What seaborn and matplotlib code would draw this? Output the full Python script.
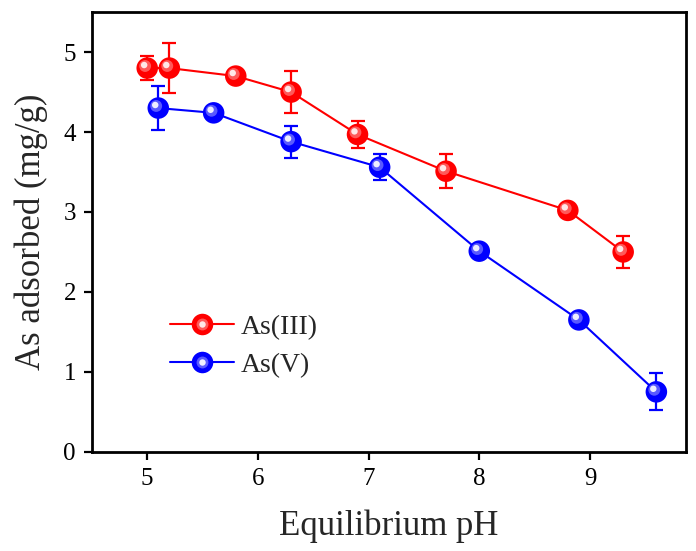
import numpy as np
import pandas as pd
import matplotlib
matplotlib.use("Agg")
import matplotlib.pyplot as plt
import matplotlib.transforms as mtransforms
from matplotlib.lines import Line2D
from matplotlib.legend_handler import HandlerTuple
import seaborn as sns

# ---- data ----
ph_as3 = [5.0, 5.2, 5.8, 6.3, 6.9, 7.7, 8.8, 9.3]
q_as3 = [4.80, 4.80, 4.70, 4.50, 3.97, 3.51, 3.02, 2.50]
err_as3 = [0.15, 0.31, 0.0, 0.26, 0.17, 0.21, 0.0, 0.20]

ph_as5 = [5.1, 5.6, 6.3, 7.1, 8.0, 8.9, 9.6]
q_as5 = [4.30, 4.24, 3.88, 3.56, 2.51, 1.65, 0.75]
err_as5 = [0.27, 0.0, 0.20, 0.16, 0.0, 0.0, 0.23]

labels = ["As(III)", "As(V)"]
colors = {"As(III)": "#ff0000", "As(V)": "#0000ff"}
highlight = {"As(III)": "#ffe8e8", "As(V)": "#eeeeff"}
midtone = {"As(III)": "#ff7070", "As(V)": "#7070ff"}

df = pd.concat([
    pd.DataFrame({"pH": ph_as3, "q": q_as3, "err": err_as3, "species": labels[0]}),
    pd.DataFrame({"pH": ph_as5, "q": q_as5, "err": err_as5, "species": labels[1]}),
], ignore_index=True)

sns.set_theme(style="ticks")
plt.rcParams["font.family"] = "serif"
plt.rcParams["font.serif"] = ["Liberation Serif", "DejaVu Serif"]
plt.rcParams["mathtext.fontset"] = "stix"

fig = plt.figure(figsize=(6.96, 5.51), dpi=100)
ax = fig.add_axes([0.132, 0.180, 0.854, 0.798])

ms = 15.5
sns.lineplot(data=df, x="pH", y="q", hue="species", palette=colors,
             linewidth=1.5, ax=ax, legend=False, zorder=2, sort=True)

for sp in labels:
    d = df[df.species == sp]
    m = d.err > 0
    ax.errorbar(d.pH[m], d.q[m], yerr=d.err[m], fmt="none", ecolor=colors[sp],
                elinewidth=1.6, capsize=5, capthick=1.6, zorder=3)
    sns.scatterplot(x=d.pH, y=d.q, color=colors[sp], s=ms**2, edgecolor="none",
                    linewidth=0, ax=ax, zorder=4, legend=False)
    off1 = mtransforms.offset_copy(ax.transData, fig=fig, x=-1.5, y=1.5, units="points")
    ax.scatter(d.pH, d.q, s=(ms*0.55)**2, color=midtone[sp], edgecolor="none",
               transform=off1, zorder=5, alpha=0.8)
    off2 = mtransforms.offset_copy(ax.transData, fig=fig, x=-2.2, y=2.2, units="points")
    ax.scatter(d.pH, d.q, s=(ms*0.3)**2, color=highlight[sp], edgecolor="none",
               transform=off2, zorder=6)

ax.set_xlim(4.5, 9.87)
ax.set_ylim(0, 5.5)
ax.set_xticks([5, 6, 7, 8, 9])
ax.set_yticks([0, 1, 2, 3, 4, 5])
ax.set_xlabel("Equilibrium pH", fontsize=25, labelpad=14)
ax.set_ylabel("As adsorbed (mg/g)", fontsize=25, labelpad=11)
ax.tick_params(axis="both", direction="out", length=5.5, width=1.6, labelsize=18,
               color="black", labelcolor="black", pad=6)
ax.tick_params(top=False, right=False)
for s in ax.spines.values():
    s.set_visible(True)
    s.set_linewidth(2.0)
    s.set_color("black")
ax.set_facecolor("white")

handles = []
for sp in labels:
    h1 = Line2D([], [], color=colors[sp], lw=1.5, marker="o", ms=ms, mec="none")
    h2 = Line2D([], [], color="none", marker="o", ms=ms*0.55, mfc=midtone[sp], mec="none", alpha=0.8)
    h3 = Line2D([], [], color="none", marker="o", ms=ms*0.3, mfc=highlight[sp], mec="none")
    handles.append((h1, h2, h3))
ax.legend(handles, labels, handler_map={tuple: HandlerTuple(ndivide=1, pad=0)},
          loc="center left", bbox_to_anchor=(0.09, 0.24), frameon=False,
          fontsize=20, handlelength=2.3, handletextpad=0.25, labelspacing=0.45)

fig.savefig("out.png", dpi=100)
